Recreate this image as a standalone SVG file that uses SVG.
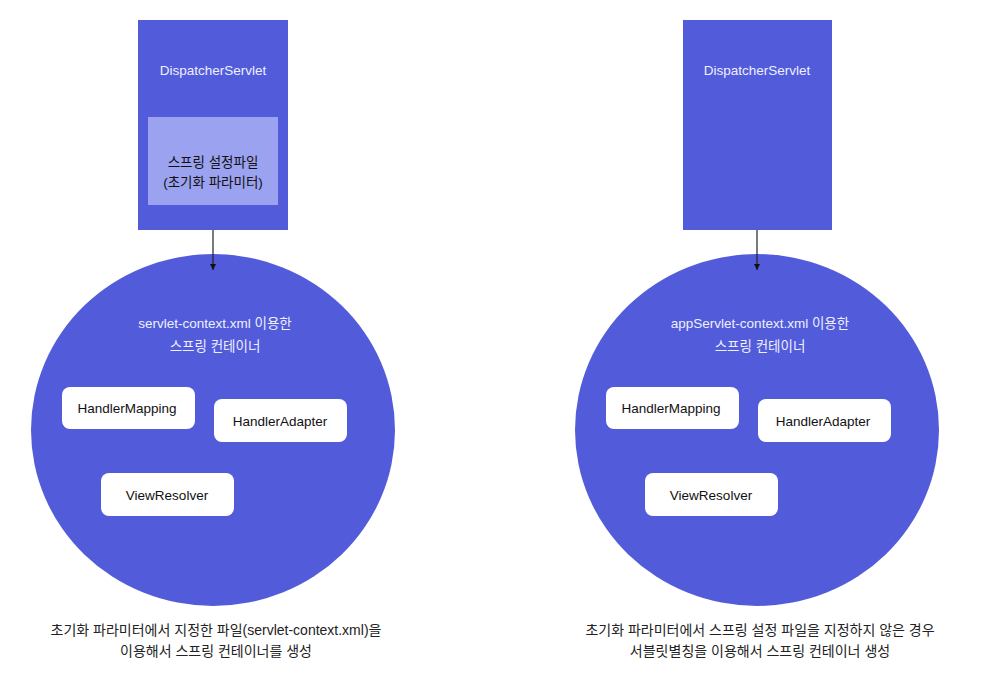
<svg xmlns="http://www.w3.org/2000/svg" width="994" height="679" viewBox="0 0 994 679">
<style>
text{font-family:"Liberation Sans","Noto Sans CJK KR",sans-serif;font-size:13.5px;text-anchor:middle}
.blue{fill:#525bd9}
.lt{fill:#eef0ff}
.box{fill:#ffffff}
.dk{fill:#111111}
.cap{fill:#222222;font-size:14px}
.conn{stroke:#222;stroke-width:1.2;fill:none}
</style>
<defs>
<marker id="ah" viewBox="0 0 10 10" refX="10" refY="5" markerWidth="6" markerHeight="6" orient="auto" markerUnits="userSpaceOnUse">
<path d="M0,0 L10,5 L0,10 z" fill="#111"/>
</marker>
</defs>
<rect width="994" height="679" fill="#ffffff"/>

<g id="left-dispatcher">
<rect class="blue" x="138" y="20" width="150" height="210"/>
<text class="lt" x="213" y="75">DispatcherServlet</text>
</g>
<g id="left-config">
<rect x="148" y="117" width="130" height="88" fill="#9ba2f0"/>
<text class="dk" x="213" y="167">스프링 설정파일</text>
<text class="dk" x="213" y="187">(초기화 파라미터)</text>
</g>
<g id="left-container">
<ellipse class="blue" cx="213" cy="430" rx="182" ry="176"/>
<text class="lt" x="215" y="328">servlet-context.xml 이용한</text>
<text class="lt" x="215" y="351">스프링 컨테이너</text>
</g>
<g id="left-handlermapping">
<rect class="box" x="62" y="387" width="133" height="42" rx="8"/>
<text class="dk" x="127" y="413">HandlerMapping</text>
</g>
<g id="left-handleradapter">
<rect class="box" x="214" y="399" width="133" height="43" rx="8"/>
<text class="dk" x="280" y="426">HandlerAdapter</text>
</g>
<g id="left-viewresolver">
<rect class="box" x="101" y="473" width="133" height="43" rx="8"/>
<text class="dk" x="167" y="500">ViewResolver</text>
</g>
<g id="left-caption">
<text class="cap" x="216" y="635">초기화 파라미터에서 지정한 파일(servlet-context.xml)을</text>
<text class="cap" x="216" y="656">이용해서 스프링 컨테이너를 생성</text>
</g>

<g id="right-dispatcher">
<rect class="blue" x="683" y="20" width="149" height="210"/>
<text class="lt" x="757" y="75">DispatcherServlet</text>
</g>
<g id="right-container">
<ellipse class="blue" cx="757" cy="430" rx="182" ry="176"/>
<text class="lt" x="760" y="328">appServlet-context.xml 이용한</text>
<text class="lt" x="760" y="351">스프링 컨테이너</text>
</g>
<g id="right-handlermapping">
<rect class="box" x="606" y="387" width="133" height="42" rx="8"/>
<text class="dk" x="671" y="413">HandlerMapping</text>
</g>
<g id="right-handleradapter">
<rect class="box" x="758" y="399" width="133" height="43" rx="8"/>
<text class="dk" x="823" y="426">HandlerAdapter</text>
</g>
<g id="right-viewresolver">
<rect class="box" x="645" y="473" width="133" height="43" rx="8"/>
<text class="dk" x="711" y="500">ViewResolver</text>
</g>
<g id="right-caption">
<text class="cap" x="760" y="635">초기화 파라미터에서 스프링 설정 파일을 지정하지 않은 경우</text>
<text class="cap" x="760" y="656">서블릿별칭을 이용해서 스프링 컨테이너 생성</text>
</g>

<g id="connectors">
<line class="conn" x1="213" y1="230" x2="213" y2="270" marker-end="url(#ah)"/>
<line class="conn" x1="757" y1="230" x2="757" y2="270" marker-end="url(#ah)"/>
</g>
</svg>
